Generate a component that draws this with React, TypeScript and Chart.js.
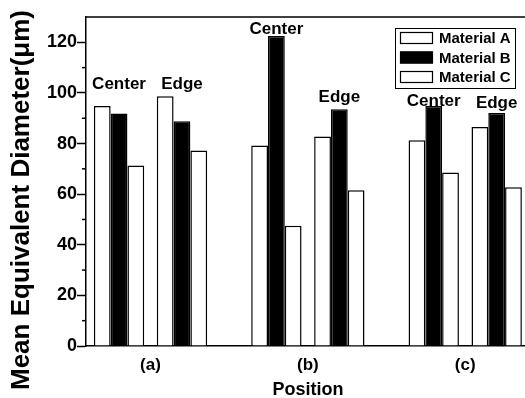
import { useEffect, useRef } from 'react';
import { Chart, registerables } from 'chart.js';

Chart.register(...registerables);

// ---- data ----
const materials = ['Material A', 'Material B', 'Material C'];
const groupPositions = [1, 3, 6, 8, 11, 13];
const groupNames = ['Center', 'Edge', 'Center', 'Edge', 'Center', 'Edge'];
const materialA = [94.8, 98.7, 79.2, 82.8, 81.3, 86.5];
const materialB = [91.9, 88.8, 122.5, 93.5, 94.8, 92.1];
const materialC = [71.3, 77.2, 47.5, 61.5, 68.6, 62.7];
const groupLabelY = [101.7, 101.7, 123.2, 96.4, 95.0, 94.1];
const positionTicks = [2, 7, 12];
const positionLabels = ['(a)', '(b)', '(c)'];
const yMinorTicks = [10, 30, 50, 70, 90, 110];
const yTitle = 'Mean Equivalent Diameter(\u03bcm)';
const xTitle = 'Position';

const FONT = '"Liberation Sans", Arial, sans-serif';
const fills = ['#ffffff', '#000000', '#ffffff'];

const overlay = {
  id: 'overlay',
  afterDraw(chart: any) {
    const { ctx, chartArea } = chart;
    const xs = chart.scales.x;
    const ys = chart.scales.y;
    ctx.save();
    ctx.strokeStyle = '#000';
    ctx.fillStyle = '#000';
    // top border
    ctx.lineWidth = 1.5;
    ctx.beginPath();
    ctx.moveTo(chartArea.left, chartArea.top);
    ctx.lineTo(chartArea.right, chartArea.top);
    ctx.stroke();
    // minor ticks
    yMinorTicks.forEach((v) => {
      const y = ys.getPixelForValue(v);
      ctx.beginPath();
      ctx.moveTo(chartArea.left - 4, y);
      ctx.lineTo(chartArea.left, y);
      ctx.stroke();
    });
    // group labels
    ctx.font = `bold 17px ${FONT}`;
    ctx.textAlign = 'center';
    ctx.textBaseline = 'alphabetic';
    groupNames.forEach((name, i) => {
      ctx.fillText(name, xs.getPixelForValue(groupPositions[i]), ys.getPixelForValue(groupLabelY[i]));
    });
    // axis titles
    ctx.font = `bold 26px ${FONT}`;
    ctx.save();
    ctx.translate(22, 200);
    ctx.rotate(-Math.PI / 2);
    ctx.textBaseline = 'middle';
    ctx.fillText(yTitle, 0, 0);
    ctx.restore();
    ctx.font = `bold 18px ${FONT}`;
    ctx.textBaseline = 'middle';
    ctx.fillText(xTitle, 308, 390);
    // legend
    const bx = 395, by = 28, bw = 120, bh = 60;
    ctx.fillStyle = '#fff';
    ctx.fillRect(bx, by, bw, bh);
    ctx.lineWidth = 1;
    ctx.strokeStyle = '#000';
    ctx.strokeRect(bx + 0.5, by + 0.5, bw, bh);
    ctx.font = `bold 15px ${FONT}`;
    ctx.textAlign = 'left';
    ctx.textBaseline = 'middle';
    chart.data.datasets.forEach((ds: any, i: number) => {
      const cy = 38 + i * 19.5;
      ctx.fillStyle = ds.backgroundColor;
      ctx.fillRect(400, cy - 6, 33, 12);
      ctx.lineWidth = 1.2;
      ctx.strokeStyle = '#000';
      ctx.strokeRect(400.5, cy - 5.5, 32, 11);
      ctx.fillStyle = '#000';
      ctx.fillText(ds.label, 439, cy + 1);
    });
    ctx.restore();
  },
};

export default function App() {
  const ref = useRef<HTMLCanvasElement>(null);
  useEffect(() => {
    document.body.style.margin = '0';
    document.body.style.overflow = 'hidden';
    const series = [materialA, materialB, materialC];
    const chart = new Chart(ref.current!, {
      type: 'bar',
      data: {
        datasets: materials.map((m, k) => ({
          label: m,
          data: groupPositions.map((x, i) => ({ x, y: series[k][i] })),
          backgroundColor: fills[k],
          borderColor: '#000',
          borderWidth: 1.5,
          categoryPercentage: 0.8,
          barPercentage: 1.0,
        })),
      },
      options: {
        animation: false,
        responsive: false,
        layout: { padding: { top: 17, right: 0, left: 0, bottom: 0 } },
        plugins: { legend: { display: false }, tooltip: { enabled: false } },
        scales: {
          x: {
            type: 'linear',
            offset: false,
            min: -0.05,
            max: 13.9,
            grid: { display: false, drawTicks: false, offset: false },
            border: { display: true, color: '#000', width: 1.5 },
            afterBuildTicks: (scale: any) => {
              scale.ticks = positionTicks.map((v) => ({ value: v }));
            },
            afterFit: (scale: any) => {
              scale.height = 52;
            },
            ticks: {
              autoSkip: false,
              maxRotation: 0,
              padding: 9,
              color: '#000',
              font: { family: FONT, size: 17, weight: 'bold' },
              callback: (v: any) => {
                const i = positionTicks.indexOf(Number(v));
                return i >= 0 ? positionLabels[i] : '';
              },
            },
          },
          y: {
            min: 0,
            max: 130,
            grid: { display: true, drawOnChartArea: false, drawTicks: true, tickLength: 9, tickWidth: 1.5, tickColor: '#000', color: '#000' },
            border: { display: true, color: '#000', width: 1.5 },
            afterFit: (scale: any) => {
              scale.width = 86;
            },
            ticks: {
              stepSize: 20,
              includeBounds: false,
              padding: 0,
              color: '#000',
              font: { family: FONT, size: 18, weight: 'bold' },
            },
          },
        },
      },
      plugins: [overlay],
    } as any);
    return () => chart.destroy();
  }, []);
  return (
    <div style={{ width: 525, height: 398 }}>
      <canvas ref={ref} width={525} height={398} style={{ display: 'block' }} />
    </div>
  );
}
